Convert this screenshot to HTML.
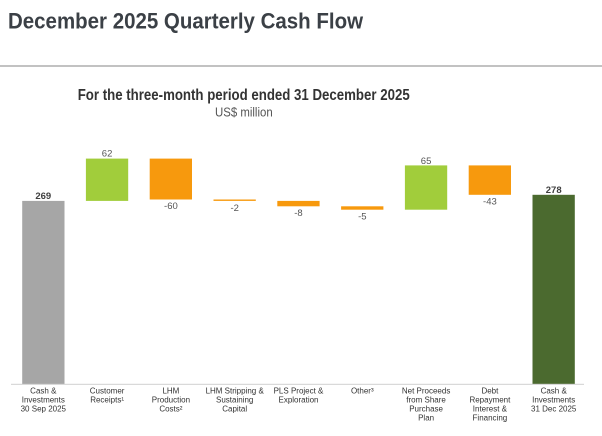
<!DOCTYPE html>
<html>
<head>
<meta charset="utf-8">
<style>
html,body{margin:0;padding:0;background:#fff;}
svg{display:block;}
text{font-family:"Liberation Sans",Arial,sans-serif;}
</style>
</head>
<body>
<svg width="602" height="436" viewBox="0 0 602 436" xmlns="http://www.w3.org/2000/svg">
  <rect x="0" y="0" width="602" height="436" fill="#ffffff"/>
  <!-- Title -->
  <text x="8" y="28.3" font-size="22" font-weight="bold" fill="#3b4046" textLength="355" lengthAdjust="spacingAndGlyphs">December 2025 Quarterly Cash Flow</text>
  <rect x="0" y="65" width="602" height="2" fill="#c2c2c2"/>
  <!-- Subtitle -->
  <text x="77.7" y="100" font-size="16" font-weight="bold" fill="#333" textLength="332" lengthAdjust="spacingAndGlyphs">For the three-month period ended 31 December 2025</text>
  <text x="215" y="116.3" font-size="13" fill="#555" textLength="57.7" lengthAdjust="spacingAndGlyphs">US$ million</text>

  <!-- Bars -->
  <rect x="22.2" y="200.9" width="42.3" height="183.3" fill="#a6a6a6"/>
  <rect x="85.9" y="158.6" width="42.3" height="42.3" fill="#a1cd3b"/>
  <rect x="149.7" y="158.6" width="42.3" height="40.9" fill="#f7990d"/>
  <rect x="213.5" y="199.5" width="42.3" height="1.4" fill="#f7990d"/>
  <rect x="277.3" y="200.9" width="42.3" height="5.4" fill="#f7990d"/>
  <rect x="341.1" y="206.3" width="42.3" height="3.4" fill="#f7990d"/>
  <rect x="404.9" y="165.4" width="42.3" height="44.3" fill="#a1cd3b"/>
  <rect x="468.7" y="165.4" width="42.3" height="29.4" fill="#f7990d"/>
  <rect x="532.5" y="194.8" width="42.3" height="189.4" fill="#4b6a2f"/>

  <!-- Axis -->
  <rect x="11" y="383.8" width="573" height="1" fill="#d0d0d0"/>

  <!-- Value labels -->
  <g font-size="9.5" text-anchor="middle" fill="#555">
    <text x="43.3" y="199" font-weight="bold" fill="#404040">269</text>
    <text x="107.1" y="156.5">62</text>
    <text x="170.9" y="209">-60</text>
    <text x="234.7" y="211">-2</text>
    <text x="298.5" y="216">-8</text>
    <text x="362.3" y="219.5">-5</text>
    <text x="426.1" y="164">65</text>
    <text x="489.9" y="204.5">-43</text>
    <text x="553.7" y="192.8" font-weight="bold" fill="#404040">278</text>
  </g>

  <!-- Category labels -->
  <g font-size="8" text-anchor="middle" fill="#333">
    <text x="43.3" y="393.5">Cash &amp;</text>
    <text x="43.3" y="402.5">Investments</text>
    <text x="43.3" y="411.5">30 Sep 2025</text>

    <text x="107.1" y="393.5">Customer</text>
    <text x="107.1" y="402.5">Receipts¹</text>

    <text x="170.9" y="393.5">LHM</text>
    <text x="170.9" y="402.5">Production</text>
    <text x="170.9" y="411.5">Costs²</text>

    <text x="234.7" y="393.5">LHM Stripping &amp;</text>
    <text x="234.7" y="402.5">Sustaining</text>
    <text x="234.7" y="411.5">Capital</text>

    <text x="298.5" y="393.5">PLS Project &amp;</text>
    <text x="298.5" y="402.5">Exploration</text>

    <text x="362.3" y="393.5">Other³</text>

    <text x="426.1" y="393.5">Net Proceeds</text>
    <text x="426.1" y="402.5">from Share</text>
    <text x="426.1" y="411.5">Purchase</text>
    <text x="426.1" y="420.5">Plan</text>

    <text x="489.9" y="393.5">Debt</text>
    <text x="489.9" y="402.5">Repayment</text>
    <text x="489.9" y="411.5">Interest &amp;</text>
    <text x="489.9" y="420.5">Financing</text>

    <text x="553.7" y="393.5">Cash &amp;</text>
    <text x="553.7" y="402.5">Investments</text>
    <text x="553.7" y="411.5">31 Dec 2025</text>
  </g>
</svg>
</body>
</html>
